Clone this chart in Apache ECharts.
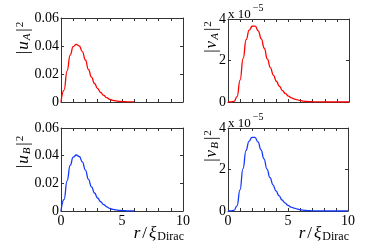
<!DOCTYPE html>
<html><head><meta charset="utf-8">
<script src="https://cdn.jsdelivr.net/npm/echarts@6/dist/echarts.min.js"></script>
<style>html,body{margin:0;padding:0;background:#fff}#c{width:378px;height:251px}</style>
</head><body><div id="c"></div>
<script>
// radial coordinate r / xi_Dirac
const rShort = [0,0.25,0.5,0.75,1,1.25,1.5,1.75,2,2.25,2.5,2.75,3,3.25,3.5,3.75,4,4.25,4.5,4.75,5,5.25,5.5,5.75,6];
const rLong = [0,0.25,0.5,0.75,1,1.25,1.5,1.75,2,2.25,2.5,2.75,3,3.25,3.5,3.75,4,4.25,4.5,4.75,5,5.25,5.5,5.75,6,6.25,6.5,6.75,7,7.25,7.5,7.75,8,8.25,8.5,8.75,9,9.25,9.5,9.75,10];
// |u_A|^2 and |u_B|^2
const uA = [0,0.0085,0.0222,0.0335,0.0395,0.0412,0.0400,0.0360,0.0300,0.0232,0.0178,0.0132,0.0096,0.0068,0.0047,0.0031,0.0019,0.0012,0.0008,0.0005,0.0003,0.0002,0.0001,0.00005,0];
const uB = [0,0.0083,0.0218,0.0330,0.0389,0.0405,0.0394,0.0355,0.0296,0.0229,0.0175,0.0130,0.0094,0.0067,0.0046,0.0030,0.0019,0.0012,0.0008,0.0005,0.0003,0.0002,0.0001,0.00005,0];
// |v_A|^2 and |v_B|^2 in units of 1e-5
const vA = [0,0.002,0.03,0.26,1.05,2.10,3.00,3.46,3.65,3.66,3.43,3.04,2.59,2.08,1.66,1.30,1.00,0.76,0.55,0.40,0.28,0.20,0.14,0.10,0.065,0.04,0.025,0.015,0.01,0.006,0.004,0.002,0.001,0,0,0,0,0,0,0,0];
const vB = [0,0.002,0.03,0.25,1.02,2.04,2.91,3.36,3.55,3.55,3.33,2.95,2.51,2.02,1.61,1.26,0.97,0.74,0.53,0.39,0.27,0.19,0.14,0.10,0.063,0.04,0.024,0.015,0.01,0.006,0.004,0.002,0.001,0,0,0,0,0,0,0,0];
const xTicks = [0,5,10];
const yTicksU = [0,0.02,0.04,0.06];
const yTicksV = [0,2,4];

const FONT = 'Liberation Serif';
const AX = '#333';
const RED = '#ff0000', BLUE = '#1438ff';
const grids = [
  {left:61, top:18, width:122, height:84},
  {left:228, top:19, width:121, height:83},
  {left:61, top:128, width:122, height:83},
  {left:228, top:128, width:120, height:83}
];
function zip(xs, ys){ return xs.map((x,i)=>[x, ys[i]]); }
const xAxes = [], yAxes = [];
grids.forEach((g, gi) => {
  const bottomRow = gi >= 2;
  const common = {type:'value', gridIndex:gi, min:0, max:10, interval:1,
    axisLine:{show:true, onZero:false, lineStyle:{color:AX, width:1}},
    axisTick:{show:true, inside:true, length:3, lineStyle:{color:AX}},
    splitLine:{show:false}};
  xAxes.push(Object.assign({}, common, {position:'bottom',
    axisLabel:{show:bottomRow, margin:3, fontFamily:FONT, fontSize:14, color:'#000',
      formatter: v => xTicks.indexOf(v) >= 0 ? String(v) : ''}}));
  xAxes.push(Object.assign({}, common, {position:'top', axisLabel:{show:false}}));
  const isU = gi % 2 === 0;
  const ycommon = {type:'value', gridIndex:gi, min:0, max: isU ? 0.06 : 4, interval: isU ? 0.02 : 2,
    axisLine:{show:true, onZero:false, lineStyle:{color:AX, width:1}},
    axisTick:{show:true, inside:true, length:3, lineStyle:{color:AX}},
    splitLine:{show:false}};
  yAxes.push(Object.assign({}, ycommon, {position:'left',
    axisLabel:{show:true, margin:2, fontFamily:FONT, fontSize:14, color:'#000',
      formatter: v => { const t = isU ? yTicksU : yTicksV; const k = t.findIndex(q => Math.abs(q - v) < 1e-9);
        if (k < 0) return ''; return t[k] === 0 ? '0' : (isU ? t[k].toFixed(2) : String(t[k])); }}}));
  yAxes.push(Object.assign({}, ycommon, {position:'right', axisLabel:{show:false}}));
});
const lineS = (gi, xs, ys, color) => ({type:'line', xAxisIndex:gi*2, yAxisIndex:gi*2, data:zip(xs, ys),
  showSymbol:false, smooth:true, smoothMonotone:'x', lineStyle:{color:color, width:1.3}, itemStyle:{color:color}, silent:true});

const richName = {
  n:{fontFamily:FONT, fontSize:17, lineHeight:18, color:'#000'},
  i:{fontFamily:FONT, fontSize:17, fontStyle:'italic', lineHeight:18, color:'#000', padding:[0,1,0,1]},
  s:{fontFamily:FONT, fontSize:11, fontStyle:'italic', lineHeight:10, verticalAlign:'bottom', color:'#000', padding:[0,2,0,0]},
  p:{fontFamily:FONT, fontSize:11, lineHeight:10, verticalAlign:'top', color:'#000', padding:[0,0,0,1]}
};
function yName(x, y, letter, sub){
  return {type:'text', x:x, y:y, rotation:Math.PI/2, silent:true,
    style:{text:'{n||}{i|' + letter + '}{s|' + sub + '}{n||}{p|2}', rich:richName, align:'center', verticalAlign:'middle'}};
}
const richX = {
  i:{fontFamily:FONT, fontSize:17, fontStyle:'italic', lineHeight:18, color:'#000', padding:[0,1,0,1]},
  n:{fontFamily:FONT, fontSize:17, lineHeight:18, color:'#000', padding:[0,1,0,1]},
  s:{fontFamily:FONT, fontSize:12, lineHeight:12, verticalAlign:'bottom', color:'#000'}
};
function xName(x, y){
  return {type:'text', x:x, y:y, silent:true,
    style:{text:'{i|r}{n|/}{i|ξ}{s|Dirac}', rich:richX, align:'right', verticalAlign:'middle'}};
}
const richE = {
  a:{fontFamily:FONT, fontSize:13, lineHeight:18, verticalAlign:'bottom', color:'#000'},
  b:{fontFamily:FONT, fontSize:10, lineHeight:10, verticalAlign:'top', color:'#000', padding:[0,0,0,2]}
};
function expo(x, y){
  return {type:'text', x:x, y:y, silent:true,
    style:{text:'{a|x 10}{b|−5}', rich:richE, align:'left', verticalAlign:'bottom'}};
}

const chart = echarts.init(document.getElementById('c'), null, {renderer:'canvas'});
chart.setOption({
  animation:false,
  backgroundColor:'#fff',
  grid: grids,
  xAxis: xAxes,
  yAxis: yAxes,
  series: [
    lineS(0, rShort, uA, RED),
    lineS(1, rLong, vA, RED),
    lineS(2, rShort, uB, BLUE),
    lineS(3, rLong, vB, BLUE)
  ],
  graphic: [
    yName(24, 38, 'u', 'A'),
    yName(212, 37, 'v', 'A'),
    yName(24, 152, 'u', 'B'),
    yName(212, 146, 'v', 'B'),
    xName(184, 234),
    xName(349, 234),
    expo(228, 21),
    expo(228, 130)
  ]
});
</script></body></html>
